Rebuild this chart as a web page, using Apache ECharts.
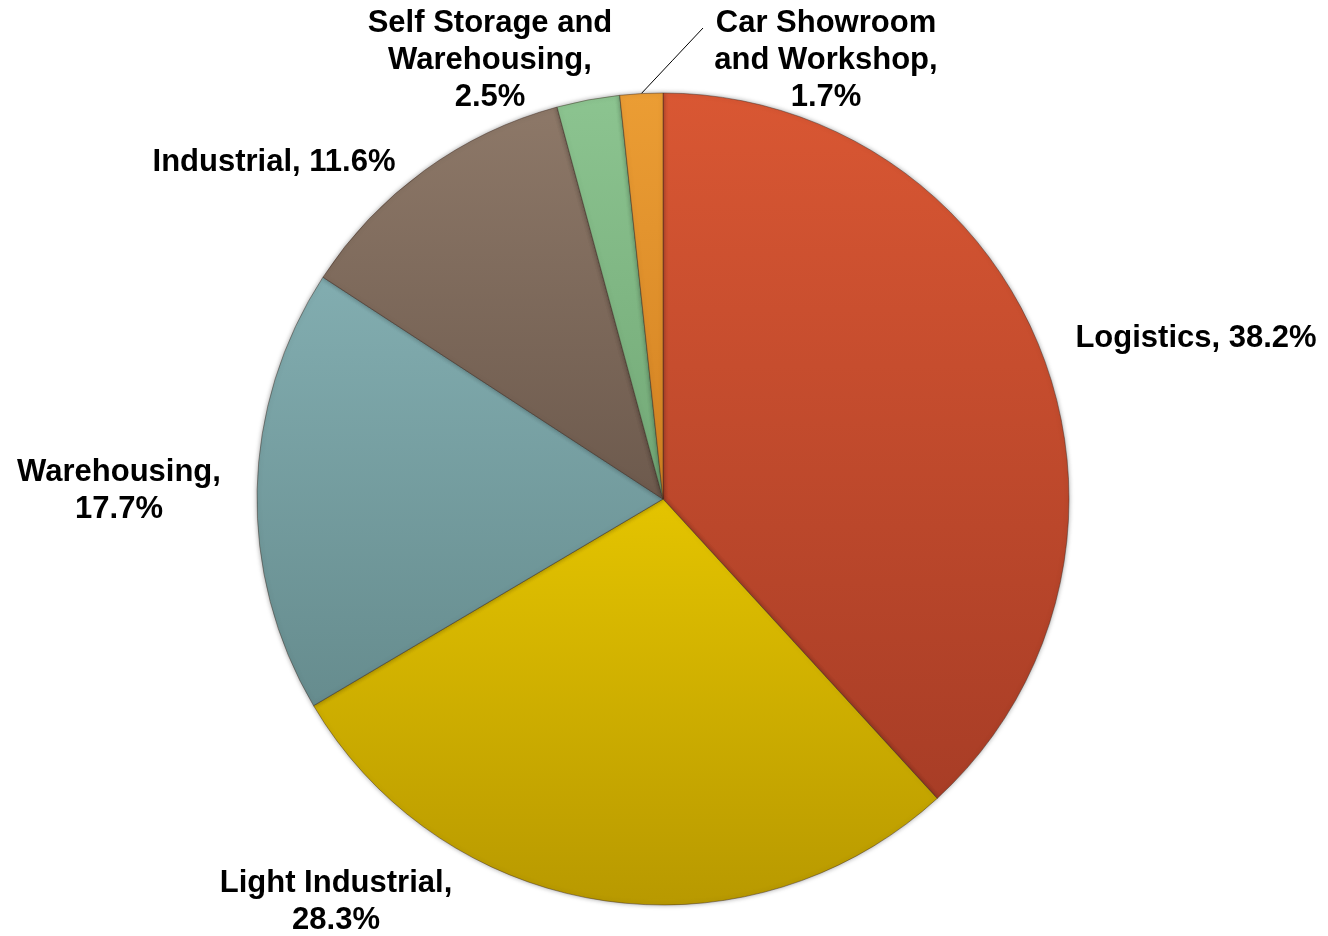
<!DOCTYPE html>
<html>
<head>
<meta charset="utf-8">
<title>Sector split</title>
<script src="https://cdn.jsdelivr.net/npm/echarts@6/dist/echarts.min.js"></script>
<style>
  html, body { margin: 0; padding: 0; background: #fff; }
  #pie { width: 1328px; height: 936px; }
</style>
</head>
<body>
<div id="pie"></div>
<script>
// data
var sectors = ["Logistics", "Light Industrial", "Warehousing", "Industrial", "Self Storage and Warehousing", "Car Showroom and Workshop"];
var shares = [38.2, 28.3, 17.7, 11.6, 2.5, 1.7];
var labelNames = ["Logistics,", "Light Industrial,\n", "Warehousing,\n", "Industrial,", "Self Storage and\nWarehousing,\n", "Car Showroom\nand Workshop,\n"];

// top / bottom shades for each slice
var topColors = ["#d95733", "#e4c400", "#82adb0", "#8d7868", "#8cc490", "#eb9d34"];
var bottomColors = ["#a83d26", "#b89900", "#668c8e", "#6d5a4d", "#72a876", "#d38222"];

// label centres
var labelPos = [
  [1196, 338], [336, 902], [119, 491], [274, 162], [490, 60], [826, 60]
];
var leaderEnd = [703, 28];

let pie = document.getElementById("pie");
let myPie = echarts.init(pie);

var items = [];
for (let i = 0; i < sectors.length; i++) {
  items.push({
    name: sectors[i],
    value: shares[i],
    itemStyle: {
      color: new echarts.graphic.LinearGradient(0, 0, 0, 1, [
        { offset: 0, color: topColors[i] },
        { offset: 1, color: bottomColors[i] },
      ]),
    },
    labelLine: { show: i == 5 },
  });
}

var option = {
  animation: false,
  series: [
    {
      type: "pie",
      center: [663, 499],
      radius: 406,
      startAngle: 90,
      clockwise: true,
      data: items,
      itemStyle: {
        borderColor: "rgba(60,40,30,0.45)",
        borderWidth: 1,
        shadowBlur: 5,
        shadowColor: "rgba(0,0,0,0.35)",
      },
      label: {
        show: true,
        position: "outside",
        formatter: function (p) {
          var sep = labelNames[p.dataIndex];
          if (sep.slice(-1) != "\n") sep += " ";
          return sep + p.value.toFixed(1) + "%";
        },
        fontFamily: "Liberation Sans, Arial, sans-serif",
        fontWeight: "bold",
        fontSize: 31,
        lineHeight: 37,
        color: "#000",
        align: "center",
      },
      labelLine: {
        length: 10,
        length2: 10,
        lineStyle: { color: "#000", width: 1 },
      },
      labelLayout: function (params) {
        var pos = labelPos[params.dataIndex];
        var out = {
          x: pos[0],
          y: pos[1],
          align: "center",
          verticalAlign: "middle",
        };
        if (params.dataIndex == 5 && params.labelLinePoints) {
          var s = params.labelLinePoints[0];
          out.labelLinePoints = [
            [s[0], s[1]],
            [(s[0] + leaderEnd[0]) / 2, (s[1] + leaderEnd[1]) / 2],
            leaderEnd,
          ];
        }
        return out;
      },
    },
  ],
};

myPie.setOption(option);
</script>
</body>
</html>
